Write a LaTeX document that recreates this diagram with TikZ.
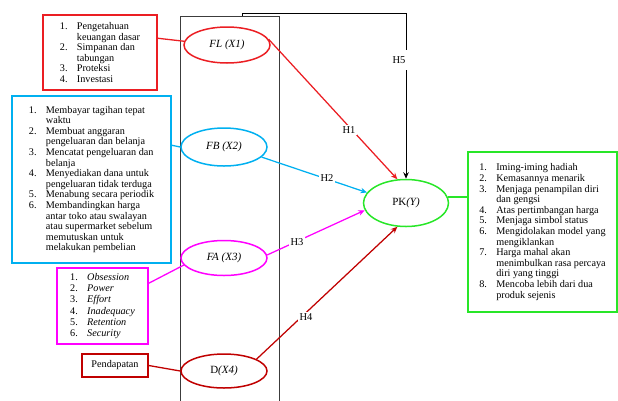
\documentclass[tikz,border=0pt]{standalone}
\usepackage{fontspec}
\setmainfont{Liberation Serif}
\usetikzlibrary{shapes.geometric,arrows.meta}
\definecolor{cred}{RGB}{235,30,35}
\definecolor{ccyan}{RGB}{0,176,240}
\definecolor{cmag}{RGB}{255,0,255}
\definecolor{cdred}{RGB}{192,0,0}
\definecolor{cgreen}{RGB}{40,230,40}
\definecolor{cframe}{RGB}{60,60,60}
\newcommand\li[2]{\makebox[17pt][l]{#1}#2}
\newcommand\lc[1]{\hspace*{17pt}#1}
\begin{document}
\begin{tikzpicture}[x={(1pt,0)},y={(0,-1pt)},
  ell/.style={ellipse,draw,text=black,line width=1.5pt,inner sep=0pt,minimum width=86pt,font=\fontsize{11}{12}\selectfont},
  listbox/.style={draw,text=black,line width=1.5pt,align=left,inner sep=0pt,font=\fontsize{10.2}{10.6}\selectfont},
  link/.style={line width=1.3pt},
  hyp/.style={line width=1.25pt,-{Stealth[length=6.5pt,width=5.5pt]}},
  lab/.style={fill=white,inner sep=1.5pt,font=\fontsize{10.5}{12}\selectfont}]
\useasboundingbox (0,0) rectangle (618,400);
% frame
\draw[cframe,line width=1pt] (180,405) |- (279,16) -- (279,405);
% ellipses
\node[ell,draw=cred,minimum height=36pt] (fl) at (227,45) {\textit{FL (X1)}};
\node[ell,draw=ccyan,minimum height=38pt] (fb) at (224,147) {\textit{FB (X2)}};
\node[ell,draw=cmag,minimum height=35pt] (fa) at (224,258) {\textit{FA (X3)}};
\node[ell,draw=cdred,minimum height=34pt] (d) at (224,371) {D\textit{(X4)}};
\node[ell,draw=cgreen,minimum width=85pt,minimum height=47pt] (pk) at (406,203) {PK\textit{(Y)}};
% boxes
\node[listbox,draw=cred,minimum width=114pt,minimum height=75pt] (b1) at (100,52.5) {%
\li{1.}{Pengetahuan}\\ \lc{keuangan dasar}\\ \li{2.}{Simpanan dan}\\ \lc{tabungan}\\ \li{3.}{Proteksi}\\ \li{4.}{Investasi}};
\node[listbox,draw=ccyan,minimum width=159pt,minimum height=167pt] (b2) at (91.5,179.5) {%
\li{1.}{Membayar tagihan tepat}\\ \lc{waktu}\\
\li{2.}{Membuat anggaran}\\ \lc{pengeluaran dan belanja}\\
\li{3.}{Mencatat pengeluaran dan}\\ \lc{belanja}\\
\li{4.}{Menyediakan dana untuk}\\ \lc{pengeluaran tidak terduga}\\
\li{5.}{Menabung secara periodik}\\
\li{6.}{Membandingkan harga}\\ \lc{antar toko atau swalayan}\\ \lc{atau supermarket sebelum}\\ \lc{memutuskan untuk}\\ \lc{melakukan pembelian}};
\node[listbox,draw=cmag,minimum width=91pt,minimum height=76pt,font=\fontsize{10.2}{11.2}\selectfont] (b3) at (102.5,306) {%
\li{1.}{\textit{Obsession}}\\ \li{2.}{\textit{Power}}\\ \li{3.}{\textit{Effort}}\\ \li{4.}{\textit{Inadequacy}}\\ \li{5.}{\textit{Retention}}\\ \li{6.}{\textit{Security}}};
\node[listbox,draw=cdred,minimum width=66pt,minimum height=23pt] (b4) at (115,365.5) {Pendapatan};
\node[listbox,draw=cgreen,minimum width=149pt,minimum height=160pt] (b5) at (542.5,232) {%
\li{1.}{Iming-iming hadiah}\\ \li{2.}{Kemasannya menarik}\\
\li{3.}{Menjaga penampilan diri}\\ \lc{dan gengsi}\\
\li{4.}{Atas pertimbangan harga}\\ \li{5.}{Menjaga simbol status}\\
\li{6.}{Mengidolakan model yang}\\ \lc{mengiklankan}\\
\li{7.}{Harga mahal akan}\\ \lc{menimbulkan rasa percaya}\\ \lc{diri yang tinggi}\\
\li{8.}{Mencoba lebih dari dua}\\ \lc{produk sejenis}};
% links box-ellipse
\draw[link,cred] ([yshift=-24pt]b1.north east) -- (fl.175);
\draw[link,ccyan] ([yshift=-50pt]b2.north east) -- (fb.west);
\draw[link,cmag] ([yshift=-16pt]b3.north east) -- (fa.190);
\draw[link,cdred] (b4.east) -- (d.west);
\draw[link,cgreen] (pk.8) -- (pk.8 -| b5.west);
% hypotheses
\draw[hyp,cred] (fl.8) -- (pk.110);
\draw[hyp,ccyan] (fb.-15) -- (pk.165);
\draw[hyp,cmag] (fa.4) -- (pk.190);
\draw[hyp,cdred] (d.20) -- (pk.250);
\coordinate (h5a) at (242,16);
\coordinate (h5b) at (406,13);
\draw[hyp,black,line width=1pt] (h5a) |- (h5b) -- (pk.north);
% labels
\node[lab] (l1) at (349,130) {H1};
\node[lab] (l2) at (327,178) {H2};
\node[lab] (l3) at (297,242) {H3};
\node[lab] (l4) at (306,317) {H4};
\node[lab,minimum width=26pt,minimum height=20pt,inner sep=0pt] (l5) at (399,60) {H5\hspace{6pt}};
\end{tikzpicture}
\end{document}
